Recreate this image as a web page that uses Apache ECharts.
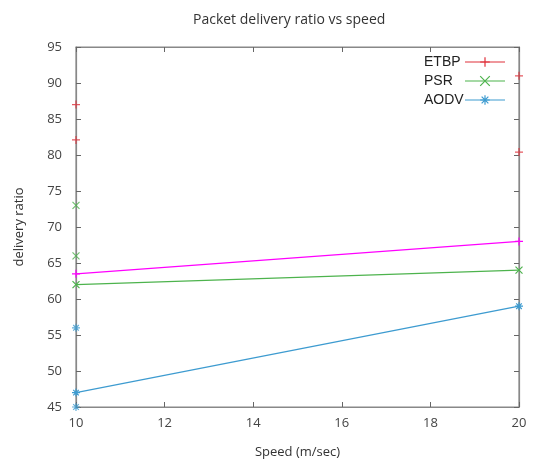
<!DOCTYPE html>
<html>
<head>
<meta charset="utf-8">
<script src="https://cdn.jsdelivr.net/npm/echarts@6/dist/echarts.min.js"></script>
<style>html,body{margin:0;padding:0;background:#fff;}#c{width:536px;height:464px;}</style>
</head>
<body>
<div id="c"></div>
<script>
var xTicks = [10, 12, 14, 16, 18, 20];
var yTicks = [45, 50, 55, 60, 65, 70, 75, 80, 85, 90, 95];
var seriesNames = ['ETBP', 'PSR', 'AODV'];
// main lines
var etbpLine = [[10, 63.5], [20, 68]];
var psrLine = [[10, 62], [20, 64]];
var aodvLine = [[10, 47], [20, 59]];
// extra isolated marks
var etbpMarks = [[10, 87], [10, 82.1], [20, 91], [20, 80.4]];
var psrMarks = [[10, 73], [10, 66]];
var aodvMarks = [[10, 56], [10, 45]];

var RED = '#e0303a', MAG = '#ff00ff', GREEN = '#4db34d', BLUE = '#3d9bd0';
var plus = 'path://M0,5L10,5M5,0L5,10';
var cross = 'path://M1,1L9,9M9,1L1,9';
var star = 'path://M0,5L10,5M5,0L5,10M1.5,1.5L8.5,8.5M8.5,1.5L1.5,8.5';

function mk(color){return {color:'rgba(0,0,0,0)', borderColor: color, borderWidth: 1.2};}

var chart = echarts.init(document.getElementById('c'), null, {renderer: 'canvas'});
var fontTick = {fontFamily: 'Open Sans', fontSize: 13, color: '#444'};
chart.setOption({
  animation: false,
  backgroundColor: '#fff',
  title: {
    text: 'Packet delivery ratio vs speed',
    left: 188, top: 8,
    textStyle: {fontFamily: 'Open Sans', fontSize: 14, fontWeight: 'normal', color: '#333'}
  },
  legend: {
    orient: 'vertical', left: 419, top: 50, itemGap: 5, align: 'right',
    itemWidth: 40, itemHeight: 12,
    formatter: '{a|{name}}',
    textStyle: {fontFamily: 'Liberation Sans', fontSize: 14, color: '#222',
      rich: {a: {fontFamily: 'Liberation Sans', fontSize: 14, color: '#222', width: 36, align: 'left'}}},
    data: [
      {name: 'ETBP', itemStyle: mk(RED), lineStyle: {color: RED, width: 1.2}},
      {name: 'PSR', itemStyle: mk(GREEN), lineStyle: {color: GREEN, width: 1.2}},
      {name: 'AODV', itemStyle: mk(BLUE), lineStyle: {color: BLUE, width: 1.2}}
    ]
  },
  grid: {left: 76, right: 17, top: 47, bottom: 57, show: true, borderColor: '#888', borderWidth: 1.2},
  xAxis: [{
    type: 'value', min: xTicks[0], max: xTicks[xTicks.length-1], interval: 2,
    name: 'Speed (m/sec)', nameLocation: 'middle', nameGap: 39,
    nameTextStyle: {fontFamily: 'Open Sans', fontSize: 13, color: '#333'},
    axisLine: {lineStyle: {color: '#888', width: 1.2}},
    axisTick: {inside: true, length: 5, lineStyle: {color: '#666'}},
    axisLabel: Object.assign({margin: 10}, fontTick),
    splitLine: {show: false}
  }, {
    type: 'value', position: 'top', min: xTicks[0], max: xTicks[xTicks.length-1], interval: 2,
    axisLine: {lineStyle: {color: '#888', width: 1.2}},
    axisTick: {inside: true, length: 5, lineStyle: {color: '#666'}},
    axisLabel: {show: false}, splitLine: {show: false}
  }],
  yAxis: [{
    type: 'value', min: yTicks[0], max: yTicks[yTicks.length-1], interval: 5,
    name: 'delivery ratio', nameLocation: 'middle', nameGap: 50, nameRotate: 90,
    nameTextStyle: {fontFamily: 'Open Sans', fontSize: 13, color: '#333'},
    axisLine: {show: true, lineStyle: {color: '#888', width: 1.2}},
    axisTick: {show: true, inside: true, length: 5, lineStyle: {color: '#666'}},
    axisLabel: Object.assign({margin: 14}, fontTick),
    splitLine: {show: false}
  }, {
    type: 'value', position: 'right', min: yTicks[0], max: yTicks[yTicks.length-1], interval: 5,
    axisLine: {show: true, lineStyle: {color: '#888', width: 1.2}},
    axisTick: {show: true, inside: true, length: 5, lineStyle: {color: '#666'}},
    axisLabel: {show: false}, splitLine: {show: false}
  }],
  series: [
    {name: 'ETBP', type: 'line', data: etbpLine, symbol: plus, symbolSize: 8,
     lineStyle: {color: MAG, width: 1.3}, itemStyle: mk(MAG), z: 3},
    {name: 'PSR', type: 'line', data: psrLine, symbol: cross, symbolSize: 7,
     lineStyle: {color: GREEN, width: 1.3}, itemStyle: mk(GREEN)},
    {name: 'AODV', type: 'line', data: aodvLine, symbol: star, symbolSize: 8,
     lineStyle: {color: BLUE, width: 1.3}, itemStyle: mk(BLUE)},
    {name: 'ETBP marks', type: 'scatter', data: etbpMarks, symbol: plus, symbolSize: 8, itemStyle: mk(RED)},
    {name: 'PSR marks', type: 'scatter', data: psrMarks, symbol: cross, symbolSize: 7, itemStyle: mk(GREEN)},
    {name: 'AODV marks', type: 'scatter', data: aodvMarks, symbol: star, symbolSize: 8, itemStyle: mk(BLUE)}
  ]
});
</script>
</body>
</html>
